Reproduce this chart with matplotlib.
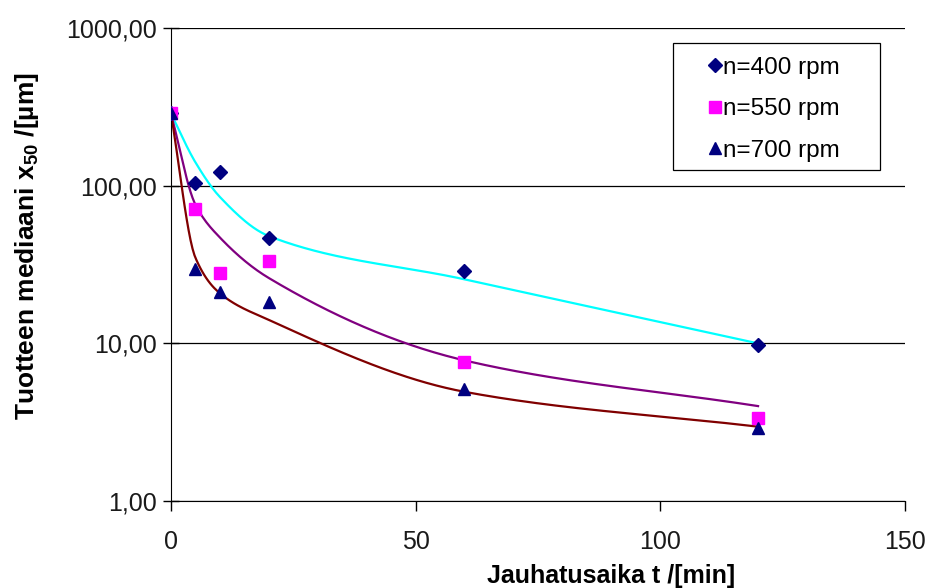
import numpy as np
import matplotlib
matplotlib.use("Agg")
from matplotlib import pyplot as plt
from matplotlib.patches import Rectangle

plt.rcParams['font.family'] = ['Liberation Sans', 'DejaVu Sans']
plt.rcParams['mathtext.fontset'] = 'custom'
plt.rcParams['mathtext.rm'] = 'Liberation Sans:bold'
plt.rcParams['mathtext.default'] = 'rm'

# measured median particle size x50 [um] vs grinding time t [min]
t = [0, 5, 10, 20, 60, 120]
x50_400 = [288, 104, 122, 46.5, 28.7, 9.8]
x50_550 = [288, 71, 27.9, 33.3, 7.6, 3.36]
x50_700 = [288, 29.6, 21.1, 18.3, 5.1, 2.9]

# trend (model) values at the same times, drawn as smoothed lines
fit_400 = [288, 141, 85, 48, 25.5, 10.0]
fit_550 = [288, 76, 47, 26, 7.8, 4.0]
fit_700 = [288, 35, 20.8, 14.1, 4.93, 2.96]

labels = ['n=400 rpm', 'n=550 rpm', 'n=700 rpm']
yticks = [1, 10, 100, 1000]
ytick_labels = ['1,00', '10,00', '100,00', '1000,00']
xticks = [0, 50, 100, 150]


def smooth(xs, ys, n=300):
    # monotone cubic (Fritsch-Carlson) in (t, log y), like a smoothed line
    x = np.asarray(xs, float)
    y = np.log10(ys)
    h = np.diff(x)
    d = np.diff(y) / h
    m = np.zeros_like(y)
    m[0], m[-1] = d[0], d[-1]
    for i in range(1, len(x) - 1):
        if d[i - 1] * d[i] > 0:
            w1 = 2 * h[i] + h[i - 1]
            w2 = h[i] + 2 * h[i - 1]
            m[i] = (w1 + w2) / (w1 / d[i - 1] + w2 / d[i])
    xx = np.linspace(x[0], x[-1], n)
    k = np.clip(np.searchsorted(x, xx) - 1, 0, len(x) - 2)
    s = (xx - x[k]) / h[k]
    h00 = 2 * s**3 - 3 * s**2 + 1
    h10 = s**3 - 2 * s**2 + s
    h01 = -2 * s**3 + 3 * s**2
    h11 = s**3 - s**2
    yy = h00 * y[k] + h10 * h[k] * m[k] + h01 * y[k + 1] + h11 * h[k] * m[k + 1]
    return xx, 10**yy


fig = plt.figure(figsize=(9.29, 5.88), dpi=100)
ax = fig.add_axes([0.184, 0.148, 0.790, 0.804])

for fit, col in zip([fit_400, fit_550, fit_700], ['#00FFFF', '#800080', '#800000']):
    xx, yy = smooth(t, fit)
    ax.plot(xx, yy, color=col, lw=1.6, zorder=2)

ax.plot(t, x50_400, 'D', color='#000080', ms=7, label=labels[0], zorder=3)
ax.plot(t, x50_550, 's', color='#FF00FF', ms=9, label=labels[1], zorder=3)
ax.plot(t, x50_700, '^', color='#000080', ms=9, label=labels[2], zorder=4)

ax.set_yscale('log')
ax.set_ylim(1, 1000)
ax.set_xlim(0, 150)
ax.set_yticks(yticks)
ax.set_yticklabels(ytick_labels)
ax.yaxis.set_minor_locator(matplotlib.ticker.NullLocator())
ax.set_xticks(xticks)
ax.tick_params(axis='both', labelsize=18, length=7, width=1, color='black', labelcolor='#1a1a1a')
ax.tick_params(axis='x', pad=14)
ax.tick_params(axis='y', direction='inout', length=12, pad=4)
ax.grid(axis='y', which='major', color='black', lw=0.9)
ax.spines['top'].set_visible(False)
ax.spines['right'].set_visible(False)

ax.set_xlabel('Jauhatusaika t /[min]', fontsize=18, fontweight='bold')
ax.xaxis.set_label_coords(0.6, -0.133)
ax.set_ylabel('Tuotteen mediaani x$_{50}$ /[µm]', fontsize=19, fontweight='bold')
ax.yaxis.set_label_coords(-0.177, 0.54)

# legend box with wide side margins, as in the original
ax.add_patch(Rectangle((0.684, 0.700), 0.282, 0.268, transform=ax.transAxes,
                       facecolor='white', edgecolor='black', lw=0.9, zorder=5))
leg = ax.legend(loc='upper left', bbox_to_anchor=(0.733, 0.94), fontsize=17.5,
                frameon=False, handlelength=0.5, handletextpad=0.1,
                labelspacing=0.8, borderpad=0, borderaxespad=0)
leg.set_zorder(6)

fig.savefig('out.png', dpi=100)
